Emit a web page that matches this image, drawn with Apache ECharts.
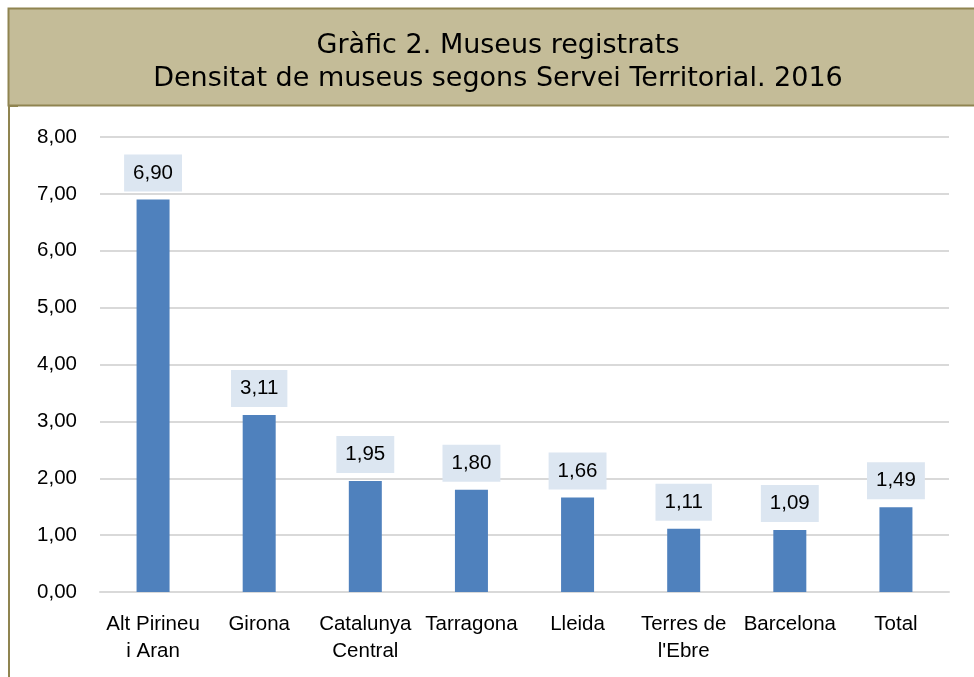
<!DOCTYPE html>
<html>
<head>
<meta charset="utf-8">
<script src="https://cdn.jsdelivr.net/npm/echarts@6/dist/echarts.min.js"></script>
<style>
  html, body { margin: 0; padding: 0; background: #fff; }
  #chart { width: 974px; height: 677px; }
</style>
</head>
<body>
<div id="chart"></div>
<script>
const categories = ['Alt Pirineu\ni Aran', 'Girona', 'Catalunya\nCentral', 'Tarragona', 'Lleida', 'Terres de\nl\'Ebre', 'Barcelona', 'Total'];
const values = [6.90, 3.11, 1.95, 1.80, 1.66, 1.11, 1.09, 1.49];
const titleLines = ['Gràfic 2. Museus registrats', 'Densitat de museus segons Servei Territorial. 2016'];

const fmt = v => v.toFixed(2).replace('.', ',');

const chart = echarts.init(document.getElementById('chart'));
const option = {
    animation: false,
    graphic: [
        {
            type: 'rect',
            shape: { x: 8.5, y: 8.5, width: 990, height: 97 },
            style: { fill: '#c4bc98', stroke: '#8f8450', lineWidth: 2 },
            z: 0
        },
        {
            type: 'line',
            shape: { x1: 9, y1: 106, x2: 9, y2: 677 },
            style: { stroke: '#8f8450', lineWidth: 2 }
        },
        {
            type: 'line',
            shape: { x1: 8, y1: 106, x2: 18, y2: 106 },
            style: { stroke: '#8f8450', lineWidth: 2 }
        }
    ],
    title: {
        text: titleLines.join('\n'),
        left: 493,
        top: 24,
        textAlign: 'center',
        textStyle: {
            fontFamily: 'DejaVu Sans',
            fontSize: 27,
            fontWeight: 'normal',
            color: '#000',
            lineHeight: 33
        }
    },
    grid: {
        left: 100,
        right: 25,
        top: 137,
        bottom: 85,
        containLabel: false
    },
    xAxis: {
        type: 'category',
        data: categories,
        axisLine: { lineStyle: { color: '#d9d9d9', width: 2 } },
        axisTick: { show: false },
        axisLabel: {
            interval: 0,
            margin: 19,
            fontFamily: 'Liberation Sans',
            fontSize: 20.5,
            lineHeight: 27,
            color: '#000'
        }
    },
    yAxis: {
        type: 'value',
        min: 0,
        max: 8,
        interval: 1,
        axisLine: { show: false },
        axisTick: { show: false },
        splitLine: { lineStyle: { color: '#d9d9d9', width: 2 } },
        axisLabel: {
            margin: 23,
            fontFamily: 'Liberation Sans',
            fontSize: 20.5,
            color: '#000',
            formatter: fmt
        }
    },
    series: [{
        type: 'bar',
        data: values,
        barWidth: 33,
        itemStyle: { color: '#4f81bd' },
        label: {
            show: true,
            position: 'top',
            distance: 8,
            formatter: p => fmt(p.value),
            fontFamily: 'Liberation Sans',
            fontSize: 20.5,
            color: '#000',
            backgroundColor: '#dce6f1',
            padding: [8, 9, 8, 9]
        }
    }]
};
chart.setOption(option);
</script>
</body>
</html>
